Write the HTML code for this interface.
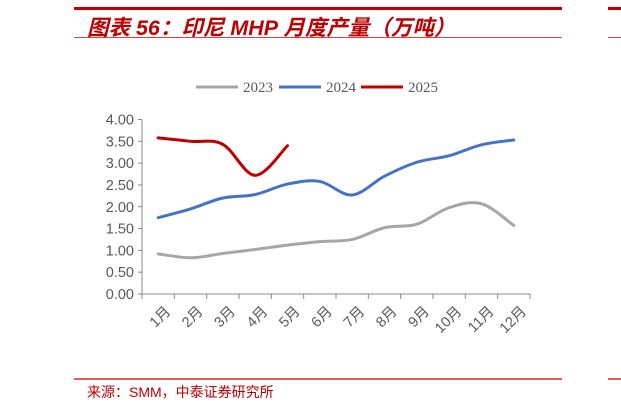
<!DOCTYPE html>
<html><head><meta charset="utf-8"><style>
body{margin:0;background:#fff;width:621px;height:409px;overflow:hidden;position:relative;font-family:"Liberation Sans","Noto Sans CJK SC",sans-serif}
.abs{position:absolute}
</style></head><body>
<div class="abs" style="left:74px;top:7px;width:488px;height:3px;background:#c00000"></div>
<div class="abs" style="left:608px;top:7px;width:13px;height:3px;background:#c00000"></div>
<div class="abs" style="left:87px;top:11px;font-size:21.5px;font-weight:bold;font-style:italic;color:#c00000;font-family:'Liberation Sans','Noto Sans CJK SC',sans-serif;white-space:nowrap">图表 56：印尼 MHP 月度产量（万吨）</div>
<div class="abs" style="left:74px;top:37px;width:488px;height:1px;background:#e04040"></div>
<div class="abs" style="left:608px;top:37px;width:13px;height:1px;background:#e04040"></div>
<svg class="abs" style="left:0;top:0" width="621" height="409" id="chart"></svg>
<div class="abs" style="left:74px;top:378px;width:488px;height:2px;background:#e06060"></div>
<div class="abs" style="left:608px;top:378px;width:13px;height:2px;background:#e06060"></div>
<div class="abs" style="left:87px;top:382px;font-size:14px;color:#c00000;white-space:nowrap">来源：SMM，中泰证券研究所</div>
<script>
const months=["1月","2月","3月","4月","5月","6月","7月","8月","9月","10月","11月","12月"];
const yTicks=["0.00","0.50","1.00","1.50","2.00","2.50","3.00","3.50","4.00"];
const s2023=[0.92,0.83,0.93,1.02,1.12,1.2,1.25,1.52,1.6,1.98,2.07,1.57];
const s2024=[1.75,1.95,2.2,2.28,2.52,2.58,2.27,2.7,3.02,3.17,3.42,3.53];
const s2025=[3.58,3.5,3.43,2.72,3.4];
const seriesNames=["2023","2024","2025"];
const colors=["#a6a6a6","#4472c4","#c00000"];
const svg=document.getElementById('chart');const NS="http://www.w3.org/2000/svg";
const X0=142,X1=530,Y0=294,Y1=119.5,YMAX=4;
const bw=(X1-X0)/months.length;
const xs=i=>X0+bw*(i+0.5);
const ys=v=>Y0-(Y0-Y1)*v/YMAX;
function mk(t,a,p){const e=document.createElementNS(NS,t);for(const k in a)e.setAttribute(k,a[k]);(p||svg).appendChild(e);return e;}
let el;
el=mk('line',{x1:X0,y1:Y1,x2:X0,y2:Y0,stroke:'#888','stroke-width':1});


el=mk('line',{x1:X0,y1:Y0,x2:X1,y2:Y0,stroke:'#888','stroke-width':1});


yTicks.forEach((t,i)=>{const v=parseFloat(t);const y=ys(v);
 mk('line',{x1:X0-4,y1:y,x2:X0,y2:y,stroke:'#888'});
 el=mk('text',{x:134,y:y+5,'text-anchor':'end','font-size':14.5,fill:'#595959'});el.textContent=t;
 
 
});
for(let i=0;i<=months.length;i++){const x=X0+bw*i;mk('line',{x1:x,y1:Y0,x2:x,y2:Y0+5,stroke:'#888'});}
months.forEach((m,i)=>{const x=xs(i)+6,y=305;
 el=mk('text',{x:x,y:y,'text-anchor':'end','font-size':14.5,fill:'#595959',transform:`rotate(-45 ${x} ${y})`,dy:'0.7em'});el.textContent=m;
 
 
});
function path(vals){const p=vals.map((v,i)=>[xs(i),ys(v)]);let d=`M${p[0][0]},${p[0][1]}`;
 for(let i=0;i<p.length-1;i++){const p0=p[i-1]||p[i],p1=p[i],p2=p[i+1],p3=p[i+2]||p2;const k=1/6;
 d+=` C${p1[0]+(p2[0]-p0[0])*k},${p1[1]+(p2[1]-p0[1])*k} ${p2[0]-(p3[0]-p1[0])*k},${p2[1]-(p3[1]-p1[1])*k} ${p2[0]},${p2[1]}`;}
 return d;}
[s2023,s2024,s2025].forEach((s,j)=>{el=mk('path',{d:path(s),fill:'none',stroke:colors[j],'stroke-width':3,'stroke-linecap':'round'});
 
 
});
const lx=[196,279,361];
seriesNames.forEach((n,j)=>{const g=mk('g',{});
 
 
 mk('line',{x1:lx[j],y1:87,x2:lx[j]+42,y2:87,stroke:colors[j],'stroke-width':3},g);
 const t=mk('text',{x:lx[j]+47,y:92,'font-size':15,fill:'#595959','font-family':'Liberation Serif,serif'},g);t.textContent=n;});
</script>
</body></html>
